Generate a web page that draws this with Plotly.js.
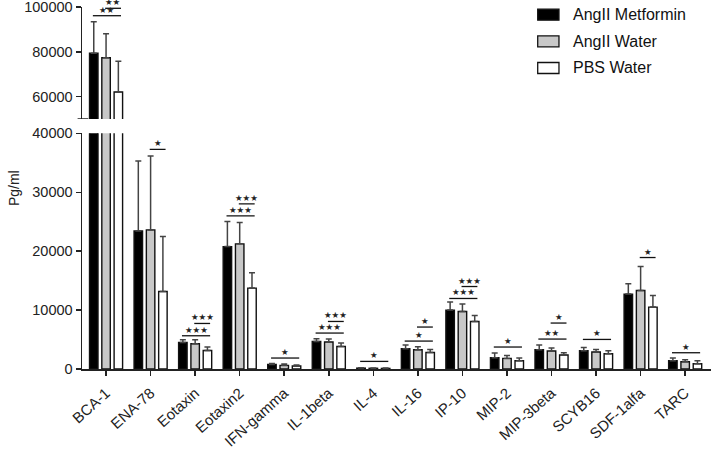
<!DOCTYPE html>
<html>
<head>
<meta charset="utf-8">
<script src="https://cdn.plot.ly/plotly-3.0.1.min.js"></script>
<style>html,body{margin:0;padding:0;background:#fff;}#chart{width:711px;height:450px;}</style>
</head>
<body>
<div id="chart"></div>
<script>
// ---- data ----
const categories = ['BCA-1','ENA-78','Eotaxin','Eotaxin2','IFN-gamma','IL-1beta','IL-4','IL-16','IP-10','MIP-2','MIP-3beta','SCYB16','SDF-1alfa','TARC'];
const seriesNames = ['AngII Metformin','AngII Water','PBS Water'];

const metforminMean = [79330, 23440, 4510, 20780, 780, 4680, 150, 3440, 10000, 1920, 3270, 3100, 12710, 1410];
const metforminErr  = [14110, 11870,  460,  4240, 170,  460,  60,  620,  1360,  790,  800,  560,  1750,  450];

const waterMean = [77370, 23610, 4290, 21240, 610, 4580, 120, 3270, 9760, 1800, 3050, 2880, 13330, 1240];
const waterErr  = [10710, 12540,  680,  3610, 240,  500,  60,  510, 1260,  510,  510,  450,  4070,  340];

const pbsMean = [62050, 13150, 3150, 13730, 510, 3830, 100, 2810, 8070, 1410, 2370, 2590, 10510, 900];
const pbsErr  = [13710,  9330,  580,  2590, 170,  570,  60,  520, 1020,  450,  390,  510,  1970, 510];

// significance brackets: category, from bar, to bar (0=Metformin,1=Water,2=PBS), level, label
const sigCategory = ['BCA-1','BCA-1','ENA-78','Eotaxin','Eotaxin','Eotaxin2','Eotaxin2','IFN-gamma','IL-1beta','IL-1beta','IL-4','IL-16','IL-16','IP-10','IP-10','MIP-2','MIP-3beta','MIP-3beta','SCYB16','SDF-1alfa','TARC'];
const sigFrom  = [0,1,1,0,1,0,1,0,0,1,0,0,1,0,1,0,0,1,0,1,0];
const sigTo    = [2,2,2,2,2,2,2,2,2,2,2,2,2,2,2,2,2,2,2,2,2];
const sigLevel = [96110,99420,37290,5640,7730,25980,28020,1860,6100,8070,1290,4740,7120,11970,14000,3730,5080,7800,5020,18920,2760];
const sigLabel = ['★★','★★','★','★★★','★★★','★★★','★★★','★','★★★','★★★','★','★','★','★★★','★★★','★','★★','★','★','★','★'];

// ---- styling ----
const means = [metforminMean, waterMean, pbsMean];
const errs = [metforminErr, waterErr, pbsErr];
const fills = ['#000000', '#c8c8c8', '#ffffff'];
const bargap = 0.172, bargroupgap = 0.31;
const slot = (1 - bargap) / 3;

const traces = [];
['', '2'].forEach(function (sfx) {
  means.forEach(function (m, i) {
    traces.push({
      type: 'bar',
      name: seriesNames[i],
      x: categories,
      y: m,
      xaxis: 'x' + sfx,
      yaxis: 'y' + sfx,
      showlegend: false,
      marker: {color: fills[i], line: {color: '#111', width: 1.4}},
      error_y: {type: 'data', symmetric: false, array: errs[i], arrayminus: m.map(function(){return 0;}),
                color: '#444', thickness: 1.5, width: 3},
      hoverinfo: 'x+y+name'
    });
  });
});

const shapes = [];
const annotations = [];

sigCategory.forEach(function (c, k) {
  const ci = categories.indexOf(c);
  const xa = ci + (sigFrom[k] - 1) * slot - 0.02;
  const xb = ci + (sigTo[k] - 1) * slot + 0.06;
  const yref = sigLevel[k] > 45000 ? 'y2' : 'y';
  shapes.push({type: 'line', xref: 'x', yref: yref, x0: xa, x1: xb, y0: sigLevel[k], y1: sigLevel[k],
               line: {color: '#111', width: 1.3}});
  annotations.push({xref: 'x', yref: yref, x: (xa + xb) / 2, y: sigLevel[k], text: sigLabel[k],
                    showarrow: false, yanchor: 'bottom', xanchor: 'center', yshift: -1,
                    font: {family: 'DejaVu Sans', size: 8.5, color: '#222'}});
});

// axis break mark
shapes.push({type: 'line', xref: 'paper', yref: 'y2', x0: -0.007, x1: 0.01, y0: 50000, y1: 50000,
             line: {color: '#222', width: 1.5}});

// manual legend
const legY = [0.9787, 0.9052, 0.8315];
seriesNames.forEach(function (n, i) {
  shapes.push({type: 'rect', xref: 'paper', yref: 'paper', x0: 0.7245, x1: 0.7583,
               y0: legY[i] - 0.0152, y1: legY[i] + 0.0152,
               fillcolor: fills[i], line: {color: '#111', width: 1.3}});
  annotations.push({xref: 'paper', yref: 'paper', x: 0.777, y: legY[i], text: n, showarrow: false,
                    xanchor: 'left', yanchor: 'middle', font: {size: 16, color: '#111'}});
});

// y axis title centered on the whole plot
annotations.push({xref: 'paper', yref: 'paper', x: -0.108, y: 0.5, text: 'Pg/ml', showarrow: false,
                  textangle: -90, xanchor: 'center', yanchor: 'middle', font: {size: 14, color: '#222'}});

const axisCommon = {showline: true, linecolor: '#222', linewidth: 1.5, ticks: 'outside', ticklen: 5,
                    tickwidth: 1.5, tickcolor: '#222', showgrid: false, zeroline: false,
                    ticklabeloverflow: 'allow', tickfont: {size: 14.5, color: '#222'}};

const layout = {
  width: 711, height: 450,
  margin: {l: 82, r: 0, t: 7, b: 81},
  paper_bgcolor: '#fff', plot_bgcolor: '#fff',
  font: {family: 'Liberation Sans, Arial, sans-serif', color: '#222'},
  barmode: 'group', bargap: bargap, bargroupgap: bargroupgap,
  showlegend: false,
  xaxis: Object.assign({}, axisCommon, {type: 'category', range: [-0.54, 13.58], tickangle: -42,
                        ticklabelstandoff: 3,
                        tickfont: {size: 15, color: '#222'}, anchor: 'y', domain: [0, 1]}),
  xaxis2: {matches: 'x', anchor: 'y2', showline: false, showticklabels: false, ticks: '',
           showgrid: false, zeroline: false, domain: [0, 1]},
  yaxis: Object.assign({}, axisCommon, {domain: [0, 0.651], range: [0, 40000],
                        tickvals: [0, 10000, 20000, 30000, 40000], tickformat: 'd'}),
  yaxis2: Object.assign({}, axisCommon, {domain: [0.6906, 1], range: [50000, 100000],
                         tickvals: [60000, 80000, 100000], tickformat: 'd', anchor: 'x2'}),
  shapes: shapes,
  annotations: annotations
};

Plotly.newPlot('chart', traces, layout, {displayModeBar: false, staticPlot: true});
</script>
</body>
</html>
